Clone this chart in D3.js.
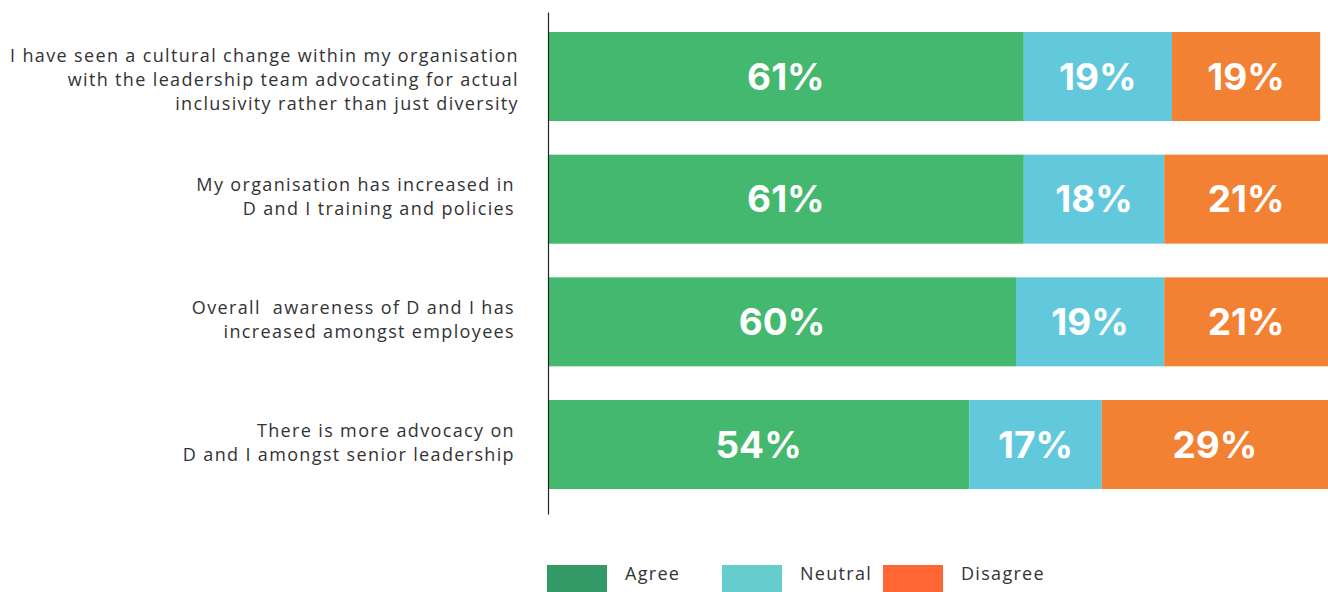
<!DOCTYPE html>
<html>
<head>
<meta charset="utf-8">
<script src="https://cdn.jsdelivr.net/npm/d3@7"></script>
<style>
  html, body { margin: 0; padding: 0; background: #fff; }
  svg { display: block; }
  text { white-space: pre; }
</style>
</head>
<body>
<svg id="chart" width="1328" height="592"></svg>
<script>
// Statement labels, one array of lines per statement
const categories = [
  ["I have seen a cultural change within my organisation",
   "with the leadership team advocating for actual",
   "inclusivity rather than just diversity"],
  ["My organisation has increased in",
   "D and I training and policies"],
  ["Overall  awareness of D and I has",
   "increased amongst employees"],
  ["There is more advocacy on",
   "D and I amongst senior leadership"]
];
const seriesNames = ["Agree", "Neutral", "Disagree"];
const agree    = [61, 61, 60, 54];
const neutral  = [19, 18, 19, 17];
const disagree = [19, 21, 21, 29];

const barColors    = ["#44b86e", "#62c9dd", "#f38134"];
const legendColors = ["#339966", "#66cccc", "#ff6633"];

const svg = d3.select("#chart");
const labelFont = "'Open Sans', sans-serif";
const valueFont = "Inter, 'Open Sans', sans-serif";

const rows = categories.map((c, i) => ({
  idx: i, lines: c, Agree: agree[i], Neutral: neutral[i], Disagree: disagree[i]
}));

const x = d3.scaleLinear().domain([0, 100]).range([548, 1328]);
const y = d3.scaleBand()
  .domain(rows.map(r => r.idx))
  .range([32, 489])
  .paddingInner(0.2745)
  .paddingOuter(0);

const stack = d3.stack().keys(seriesNames)(rows);
const color = d3.scaleOrdinal().domain(seriesNames).range(barColors);

const layers = svg.append("g").selectAll("g")
  .data(stack).join("g")
  .attr("fill", d => color(d.key));

layers.selectAll("rect")
  .data(d => d).join("rect")
  .attr("x", d => x(d[0]))
  .attr("y", d => y(d.data.idx))
  .attr("width", d => x(d[1]) - x(d[0]))
  .attr("height", y.bandwidth());

// Percentage labels inside each segment
const labels = svg.append("g");
stack.forEach(layer => {
  labels.selectAll(null)
    .data(layer).join("text")
    .attr("x", d => (x(d[0]) + x(d[1])) / 2)
    .attr("y", d => y(d.data.idx) + y.bandwidth() / 2)
    .attr("dy", "0.36em")
    .attr("text-anchor", "middle")
    .attr("fill", "#fff")
    .attr("font-family", valueFont)
    .attr("font-weight", 700)
    .attr("font-size", 37)
    .text(d => (d[1] - d[0]) + "%");
});

// Vertical axis line
const axis = d3.axisLeft(d3.scaleLinear().range([12, 514])).ticks(0).tickSize(0).tickSizeOuter(0);
const axisG = svg.append("g").attr("transform", "translate(548,0)").call(axis);
axisG.select(".domain").attr("stroke", "#222").attr("stroke-width", 1.2);
axisG.selectAll(".tick").remove();

// Statement text, right aligned against the axis
const lineH = 24;
const catG = svg.append("g");
rows.forEach(r => {
  const cy = y(r.idx) + y.bandwidth() / 2 + (r.idx === 0 ? 3 : -2);
  const n = r.lines.length;
  const t = catG.append("text")
    .attr("text-anchor", "end")
    .attr("font-family", labelFont)
    .attr("font-size", 18)
    .attr("letter-spacing", 1.35)
    .attr("fill", "#333");
  r.lines.forEach((ln, k) => {
    t.append("tspan")
      .attr("x", r.idx === 0 ? 519 : 515)
      .attr("y", cy + (k - (n - 1) / 2) * lineH)
      .attr("dy", "0.35em")
      .text(ln);
  });
});

// Legend
const legendX = [547, 722, 883];
const leg = svg.append("g");
seriesNames.forEach((name, i) => {
  leg.append("rect")
    .attr("x", legendX[i]).attr("y", 565)
    .attr("width", 60).attr("height", 27)
    .attr("fill", legendColors[i]);
  leg.append("text")
    .attr("x", legendX[i] + 78).attr("y", 574)
    .attr("dy", "0.35em")
    .attr("font-family", labelFont)
    .attr("font-size", 18)
    .attr("letter-spacing", 1.3)
    .attr("fill", "#333")
    .text(name);
});
</script>
</body>
</html>
